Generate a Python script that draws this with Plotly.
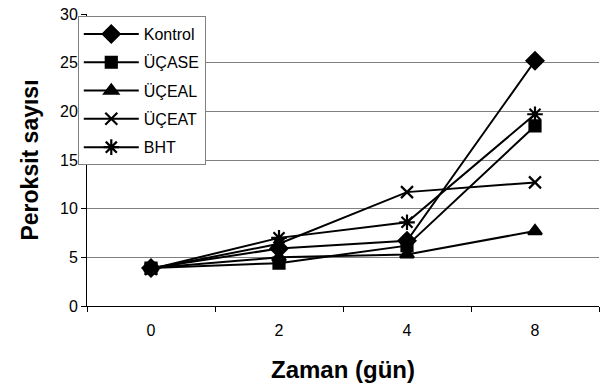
import plotly.graph_objects as go

days = ["0", "2", "4", "8"]
kontrol = [3.9, 5.9, 6.7, 25.2]
ucase = [3.9, 4.4, 6.2, 18.5]
uceal = [3.9, 5.0, 5.3, 7.7]
uceat = [3.8, 6.4, 11.7, 12.7]
bht = [3.8, 7.0, 8.6, 19.7]

series = [
    ("Kontrol", kontrol, "diamond", 13),
    ("ÜÇASE", ucase, "square", 11),
    ("ÜÇEAL", uceal, "triangle-up", 12),
    ("ÜÇEAT", uceat, "x-thin-open", 12),
    ("BHT", bht, "asterisk-open", 13),
]

FONT = "Liberation Sans, Arial, sans-serif"

fig = go.Figure()
for i, (name, vals, sym, size) in enumerate(series):
    fig.add_trace(go.Scatter(
        x=days, y=vals, name=name, mode="lines+markers",
        legendgroup=f"g{i}",
        line=dict(color="black", width=2),
        marker=dict(symbol=sym, size=size, color="black",
                    line=dict(color="black", width=2.2)),
    ))

fig.update_layout(
    width=605, height=387,
    margin=dict(l=87, r=6, t=11, b=81),
    paper_bgcolor="white", plot_bgcolor="white",
    font=dict(family=FONT, size=16, color="black"),
    showlegend=True,
    legend=dict(
        x=-0.018, y=0.993, xanchor="left", yanchor="top",
        bgcolor="white", bordercolor="#808080", borderwidth=1,
        font=dict(family=FONT, size=16, color="black"),
        tracegroupgap=4.5, itemwidth=55,
    ),
    xaxis=dict(
        type="category", range=[-0.5, 3.5],
        showline=True, linecolor="black", linewidth=1,
        ticks="outside", ticklen=5, tickcolor="black",
        tickson="boundaries", showgrid=False,
        tickfont=dict(size=16), ticklabelstandoff=10,
        title=dict(text="<b>Zaman (gün)</b>", font=dict(size=24), standoff=22),
    ),
    yaxis=dict(
        range=[0, 30], dtick=5, tick0=0,
        showline=True, linecolor="black", linewidth=1,
        ticks="outside", ticklen=5, tickcolor="black",
        showgrid=True, gridcolor="#808080", gridwidth=1,
        zeroline=False,
        tickfont=dict(size=16),
        title=dict(text="<b>Peroksit sayısı</b>", font=dict(size=23), standoff=14),
    ),
)

fig.write_html("out.html")
